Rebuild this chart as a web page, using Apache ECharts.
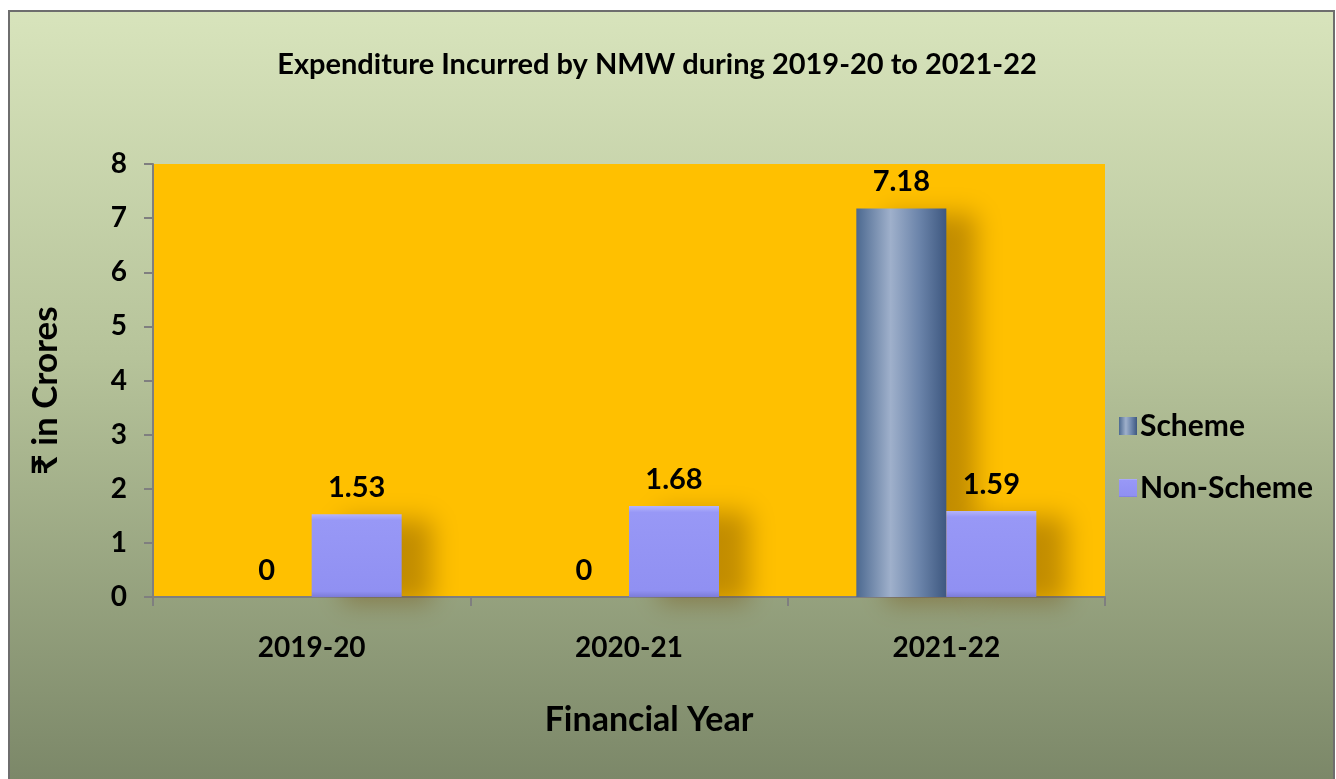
<!DOCTYPE html>
<html>
<head>
<meta charset="utf-8">
<style>
  html, body { margin: 0; padding: 0; background: #ffffff; }
  #chart { width: 1336px; height: 779px; }
</style>
<script src="https://cdn.jsdelivr.net/npm/echarts@6/dist/echarts.min.js"></script>
</head>
<body>
<div id="chart"></div>
<script>
// Expenditure by financial year, in crores of rupees
const years = ['2019-20', '2020-21', '2021-22'];
const schemeValues = [0, 0, 7.18];
const nonSchemeValues = [1.53, 1.68, 1.59];
const yTicks = [0, 1, 2, 3, 4, 5, 6, 7, 8];

const FONT = 'Lato, "Noto Sans", "DejaVu Sans", sans-serif';

const chart = echarts.init(document.getElementById('chart'), null, { renderer: 'canvas' });

const schemeFill = new echarts.graphic.LinearGradient(0, 0, 1, 0, [
  { offset: 0, color: '#4c6990' },
  { offset: 0.38, color: '#9fb0cb' },
  { offset: 0.7, color: '#6b84aa' },
  { offset: 1, color: '#3e5880' }
]);
const nonSchemeFill = new echarts.graphic.LinearGradient(0, 0, 0, 1, [
  { offset: 0, color: '#b4b4fb' },
  { offset: 0.07, color: '#9898f6' },
  { offset: 0.93, color: '#9090f2' },
  { offset: 1, color: '#7c7cd8' }
]);

const labelStyle = {
  show: true,
  position: 'top',
  distance: 12,
  fontFamily: FONT,
  fontWeight: 'bold',
  fontSize: 29,
  color: '#000000'
};

const barShadow = {
  shadowColor: 'rgba(110, 70, 0, 0.42)',
  shadowBlur: 24,
  shadowOffsetX: 30,
  shadowOffsetY: 6
};

chart.setOption({
  animation: false,
  backgroundColor: '#ffffff',
  graphic: [
    {
      type: 'rect',
      z: -10,
      shape: { x: 9, y: 11, width: 1325, height: 772 },
      style: {
        fill: new echarts.graphic.LinearGradient(0, 0, 0, 1, [
          { offset: 0, color: '#d8e4bc' },
          { offset: 0.45, color: '#b6c39a' },
          { offset: 1, color: '#7b8768' }
        ]),
        stroke: '#6e6e6e',
        lineWidth: 2
      }
    }
  ],
  title: {
    text: 'Expenditure Incurred by NMW during 2019-20 to 2021-22',
    left: 652,
    textAlign: 'center',
    top: 45,
    textStyle: {
      fontFamily: FONT,
      fontWeight: 'bold',
      fontSize: 29,
      color: '#000000'
    }
  },
  legend: {
    orient: 'vertical',
    left: 1114,
    top: 406,
    itemWidth: 18,
    itemHeight: 18,
    itemGap: 32,
    icon: 'rect',
    textStyle: {
      fontFamily: FONT,
      fontWeight: 'bold',
      fontSize: 30,
      color: '#000000',
      padding: [0, 0, 0, -2]
    },
    data: ['Scheme', 'Non-Scheme']
  },
  grid: {
    left: 153,
    right: 231,
    top: 164,
    bottom: 182,
    show: true,
    backgroundColor: '#ffc000',
    borderWidth: 0
  },
  xAxis: {
    type: 'category',
    data: years,
    name: 'Financial Year',
    nameLocation: 'middle',
    nameGap: 106,
    nameTextStyle: {
      fontFamily: FONT,
      fontWeight: 'bold',
      fontSize: 34,
      color: '#000000',
      padding: [0, 0, 0, 40]
    },
    axisLine: { lineStyle: { color: '#7f7f7f', width: 2 } },
    axisTick: { show: true, length: 9, lineStyle: { color: '#7f7f7f', width: 2 } },
    axisLabel: {
      margin: 37,
      fontFamily: FONT,
      fontWeight: 'bold',
      fontSize: 28,
      color: '#000000'
    },
    splitLine: { show: false }
  },
  yAxis: {
    type: 'value',
    min: yTicks[0],
    max: yTicks[yTicks.length - 1],
    interval: 1,
    name: '₹ in Crores',
    nameLocation: 'middle',
    nameGap: 90,
    nameTextStyle: {
      fontFamily: FONT,
      fontWeight: 'bold',
      fontSize: 35,
      color: '#000000',
      padding: [0, 20, 0, 0]
    },
    axisLine: { show: true, lineStyle: { color: '#7f7f7f', width: 2 } },
    axisTick: { show: true, length: 9, lineStyle: { color: '#7f7f7f', width: 2 } },
    axisLabel: {
      margin: 26,
      fontFamily: FONT,
      fontWeight: 'bold',
      fontSize: 28,
      color: '#000000'
    },
    splitLine: { show: false }
  },
  series: [
    {
      name: 'Scheme',
      type: 'bar',
      data: schemeValues,
      barWidth: 90,
      barGap: '0%',
      itemStyle: Object.assign({ color: schemeFill, borderWidth: 0 }, barShadow),
      label: labelStyle
    },
    {
      name: 'Non-Scheme',
      type: 'bar',
      data: nonSchemeValues,
      barWidth: 90,
      barGap: '0%',
      itemStyle: Object.assign({ color: nonSchemeFill, borderWidth: 0 }, barShadow),
      label: labelStyle
    }
  ]
});
</script>
</body>
</html>
